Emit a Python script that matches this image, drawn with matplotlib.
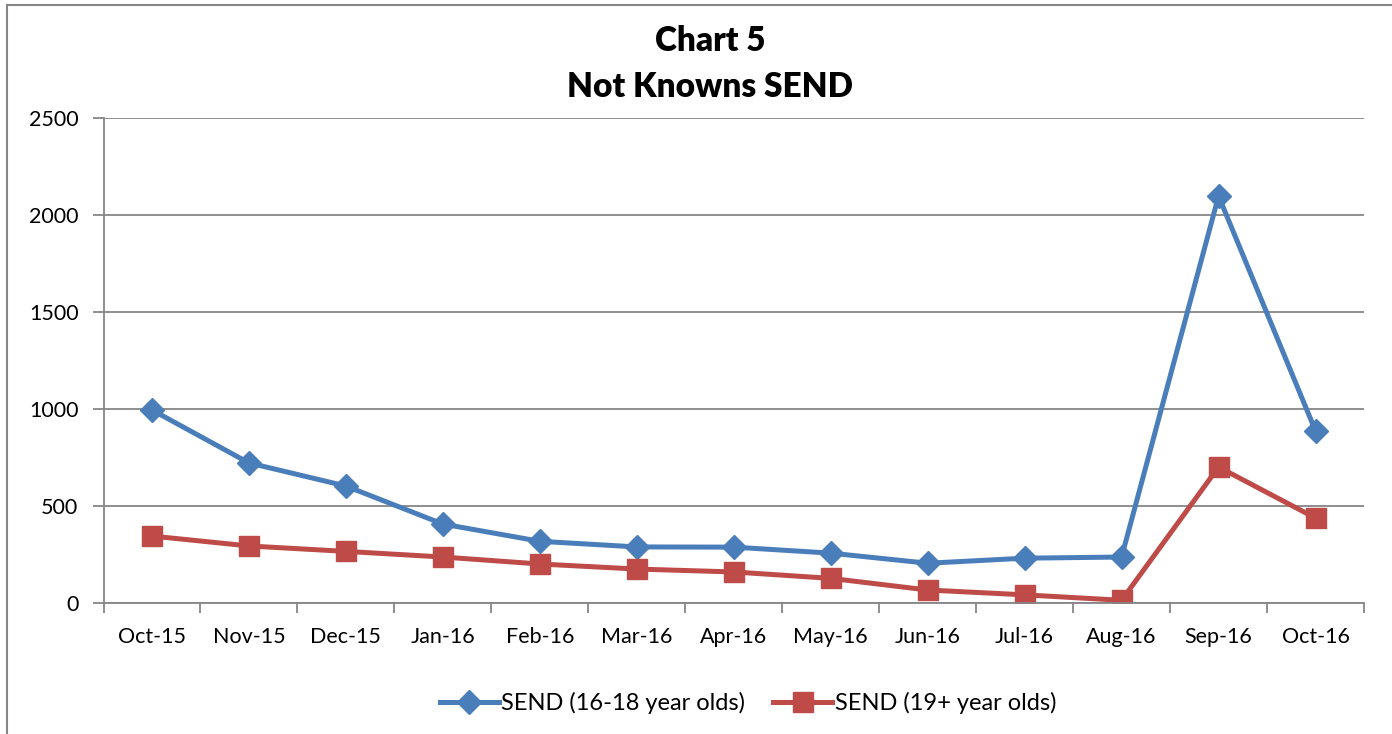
import numpy as np
import matplotlib.pyplot as plt
from matplotlib.patches import Rectangle

# data
months = ['Oct-15', 'Nov-15', 'Dec-15', 'Jan-16', 'Feb-16', 'Mar-16', 'Apr-16',
          'May-16', 'Jun-16', 'Jul-16', 'Aug-16', 'Sep-16', 'Oct-16']
send_16_18 = [995, 722, 603, 407, 318, 289, 288, 257, 205, 231, 237, 2098, 887]
send_19 = [345, 294, 266, 237, 201, 175, 160, 127, 67, 42, 14, 701, 438]

plt.rcParams['font.family'] = ['Lato', 'DejaVu Sans']

blue = '#4A7EBB'
red = '#BE4B48'
grey = '#868686'

fig = plt.figure(figsize=(13.92, 7.34), dpi=100)
ax = fig.add_axes([103.5 / 1392, 1 - 603 / 734, (1364 - 103.5) / 1392, (603 - 118) / 734])

# chart area border (cut off at right and bottom)
fig.patches.append(Rectangle((7 / 1392, -0.1), 1.2, 1 - 5 / 734 + 0.1,
                             transform=fig.transFigure, fill=False,
                             edgecolor=grey, linewidth=1.5))

x = np.arange(len(months))
ax.plot(x, send_16_18, color=blue, lw=3.6, marker='D', ms=12.5,
        label='SEND (16-18 year olds)')
ax.plot(x, send_19, color=red, lw=3.6, marker='s', ms=15,
        label='SEND (19+ year olds)')

ax.set_xlim(-0.5, len(months) - 0.5)
ax.set_ylim(0, 2500)
ax.set_yticks(np.arange(0, 2501, 500))
ax.set_xticks(x)
ax.set_xticklabels(months)
ax.set_xticks(np.arange(-0.5, len(months), 1), minor=True)
ax.tick_params(axis='x', which='major', length=0, pad=17, labelsize=15.5)
ax.tick_params(axis='x', which='minor', length=7, width=1.3, color=grey)
ax.tick_params(axis='y', length=8, width=1.3, color=grey, labelsize=15.5, pad=10)

ax.grid(axis='y', color=grey, lw=1.3)
ax.set_axisbelow(True)
for s in ['top', 'right']:
    ax.spines[s].set_visible(False)
for s in ['left', 'bottom']:
    ax.spines[s].set_color(grey)
    ax.spines[s].set_linewidth(1.3)

fig.text(0.510, 1 - 41 / 734, 'Chart 5', ha='center', va='center',
         fontsize=24, fontweight='heavy')
fig.text(0.510, 1 - 87 / 734, 'Not Knowns SEND', ha='center', va='center',
         fontsize=24, fontweight='heavy')

fig.legend(loc='center', bbox_to_anchor=(748 / 1392, 1 - 703 / 734), ncol=2,
           frameon=False, fontsize=17, handlelength=2.5, handletextpad=0.1,
           columnspacing=1.2)

fig.savefig('out.png', dpi=100)
